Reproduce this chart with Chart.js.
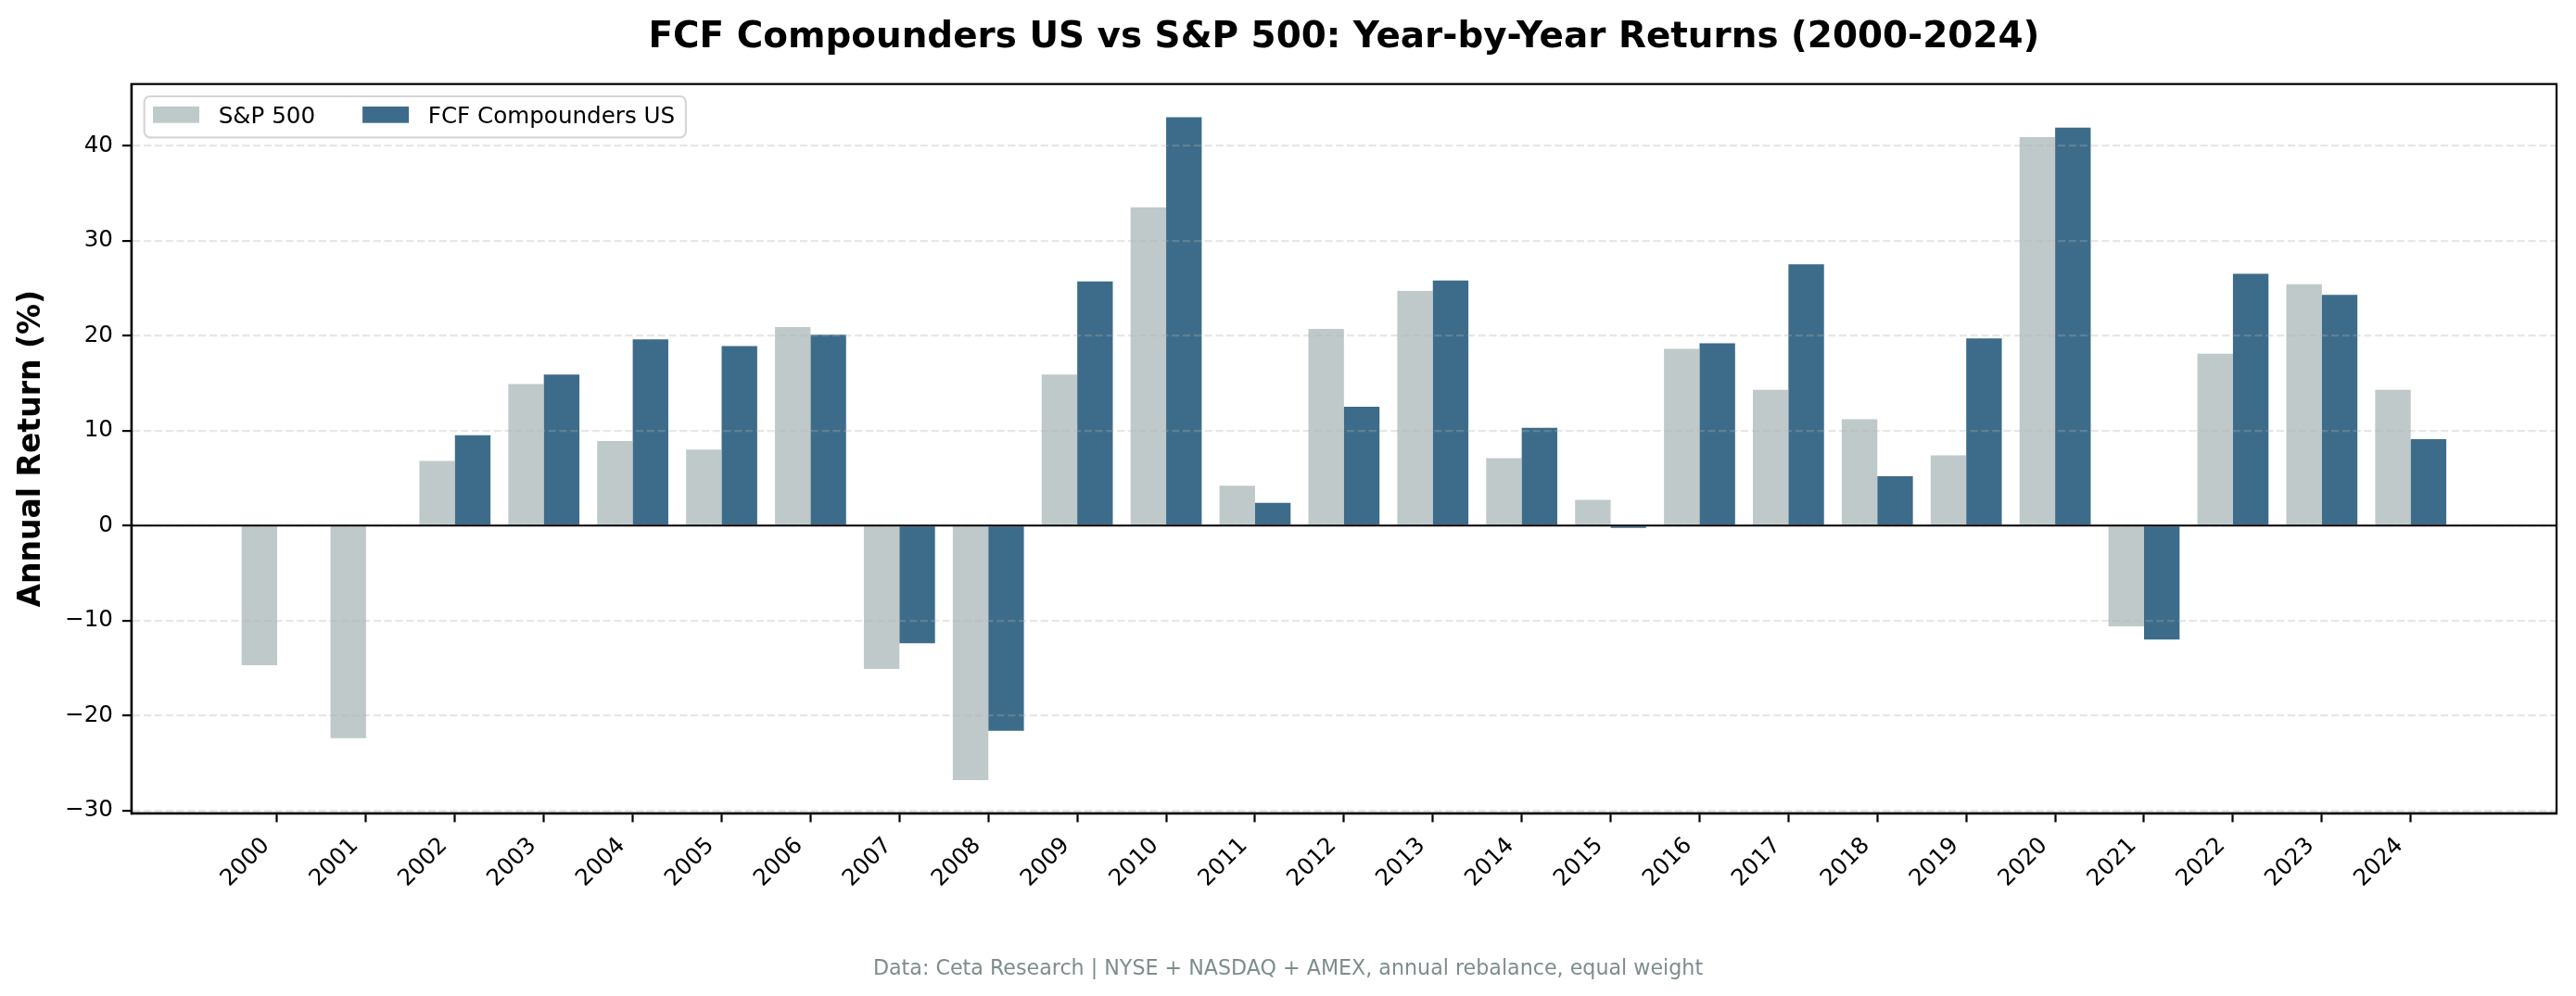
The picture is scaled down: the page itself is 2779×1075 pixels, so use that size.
<!DOCTYPE html>
<html>
<head>
<meta charset="utf-8">
<script src="https://cdn.jsdelivr.net/npm/chart.js@4.4.1/dist/chart.umd.min.js"></script>
<style>html,body{margin:0;padding:0;background:#fff;overflow:hidden}</style>
</head>
<body>
<canvas id="c" width="2779" height="1075" style="width:2779px;height:1075px;display:block"></canvas>
<script>
// ---- data ----
const years = ['2000','2001','2002','2003','2004','2005','2006','2007','2008','2009','2010','2011','2012',
               '2013','2014','2015','2016','2017','2018','2019','2020','2021','2022','2023','2024'];
const sp500 = [-14.7, -22.4, 6.8, 14.9, 8.9, 8.0, 20.9, -15.1, -26.8, 15.9, 33.5, 4.2, 20.7,
               24.7, 7.1, 2.7, 18.6, 14.3, 11.2, 7.4, 40.9, -10.6, 18.1, 25.4, 14.3];
const fcfCompounders = [null, null, 9.5, 15.9, 19.6, 18.9, 20.1, -12.4, -21.6, 25.7, 43.0, 2.4, 12.5,
               25.8, 10.3, -0.25, 19.2, 27.5, 5.2, 19.7, 41.9, -12.0, 26.5, 24.3, 9.1];
const yTicks = [-30, -20, -10, 0, 10, 20, 30, 40];
const seriesNames = ['S&P 500', 'FCF Compounders US'];
const titleText = 'FCF Compounders US vs S&P 500: Year-by-Year Returns (2000-2024)';
const yLabel = 'Annual Return (%)';
const footnote = 'Data: Ceta Research | NYSE + NASDAQ + AMEX, annual rebalance, equal weight';

// ---- styles ----
const FAM = "'DejaVu Sans', sans-serif";
const colSP = 'rgba(149,165,166,0.6)';
const colFCF = 'rgba(26,82,118,0.85)';
const TICK_FS = 24.6;

// axis limits like matplotlib autoscale (5% margins)
const allVals = sp500.concat(fcfCompounders).filter(v => v !== null);
const dMin = Math.min(0, ...allVals), dMax = Math.max(0, ...allVals);
const yMin = dMin - 0.05 * (dMax - dMin), yMax = dMax + 0.05 * (dMax - dMin);
const xLo = -0.4, xHi = years.length - 1 + 0.4;
const xMin = xLo - 0.05 * (xHi - xLo), xMax = xHi + 0.05 * (xHi - xLo);

const decor = {
  id: 'decor',
  afterDraw(chart) {
    const {ctx, chartArea: a, scales: {y}} = chart;
    ctx.save();
    // zero line
    const y0 = y.getPixelForValue(0);
    ctx.strokeStyle = '#000';
    ctx.lineWidth = 2.2;
    ctx.setLineDash([]);
    ctx.beginPath(); ctx.moveTo(a.left, y0); ctx.lineTo(a.right, y0); ctx.stroke();
    // frame
    ctx.strokeRect(a.left, a.top, a.right - a.left, a.bottom - a.top);
    // title
    ctx.fillStyle = '#000';
    ctx.font = `bold 38.9px ${FAM}`;
    ctx.textAlign = 'center';
    ctx.textBaseline = 'alphabetic';
    ctx.fillText(titleText, (a.left + a.right) / 2, 50.5);
    // footnote
    ctx.fillStyle = '#7f8c8d';
    ctx.font = `22.2px ${FAM}`;
    ctx.fillText(footnote, chart.width / 2, 1051.7);
    // legend
    ctx.font = `${TICK_FS}px ${FAM}`;
    ctx.textAlign = 'left';
    const bx = a.left + 14, by = a.top + 13.3, bh = 44.3;
    const padL = 9.3, patchW = 50, patchH = 17.7, gapT = 20.7, gapE = 51, padR = 11.7;
    const items = chart.data.datasets.map(d => ({label: d.label, color: d.backgroundColor, w: ctx.measureText(d.label).width}));
    let bw = padL + padR;
    items.forEach((it, i) => { bw += patchW + gapT + it.w + (i ? gapE : 0); });
    ctx.beginPath();
    ctx.roundRect(bx, by, bw, bh, 6);
    ctx.fillStyle = 'rgba(255,255,255,0.8)';
    ctx.fill();
    ctx.strokeStyle = '#d6d6d6';
    ctx.lineWidth = 2.2;
    ctx.stroke();
    let x = bx + padL;
    items.forEach((it, i) => {
      if (i) x += gapE;
      ctx.fillStyle = it.color;
      ctx.fillRect(x, by + 11, patchW, patchH);
      x += patchW + gapT;
      ctx.fillStyle = '#000';
      ctx.fillText(it.label, x, by + 28.7);
      x += it.w;
    });
    ctx.restore();
  }
};

new Chart(document.getElementById('c'), {
  type: 'bar',
  data: {
    datasets: [
      { label: seriesNames[0], data: sp500.map((v, i) => ({x: i, y: v})), backgroundColor: colSP, borderWidth: 0 },
      { label: seriesNames[1], data: fcfCompounders.map((v, i) => ({x: i, y: v})), backgroundColor: colFCF, borderWidth: 0 }
    ]
  },
  options: {
    responsive: false,
    devicePixelRatio: 1,
    animation: false,
    barPercentage: 1.0,
    categoryPercentage: 0.8,
    layout: { padding: { top: 90.7, right: 21, bottom: 0, left: 0 } },
    plugins: { legend: { display: false }, title: { display: false }, tooltip: { enabled: false } },
    scales: {
      x: {
        type: 'linear', min: xMin, max: xMax, offset: false,
        afterBuildTicks: s => { s.ticks = years.map((_, i) => ({value: i})); },
        afterFit: s => { s.height = 1075 - 877.7; },
        ticks: {
          callback: v => years[v] ?? '',
          font: { family: FAM, size: TICK_FS }, color: '#000',
          maxRotation: 45, minRotation: 45, autoSkip: false, padding: 11, labelOffset: -12
        },
        grid: { display: true, drawOnChartArea: false, drawTicks: true, tickLength: 9.7, tickWidth: 2.2, tickColor: '#000', offset: false },
        border: { display: true, color: '#000', width: 2.2 }
      },
      y: {
        min: yMin, max: yMax,
        afterBuildTicks: s => { s.ticks = yTicks.map(v => ({value: v})); },
        afterFit: s => { s.width = 141.7; },
        ticks: {
          callback: v => v < 0 ? '\u2212' + Math.abs(v) : String(v),
          font: { family: FAM, size: TICK_FS }, color: '#000', padding: 10
        },
        grid: { z: 1, color: 'rgba(176,176,176,0.3)', lineWidth: 2.2, tickColor: '#000', tickLength: 9.7, tickWidth: 2.2, tickBorderDash: [] },
        border: { z: 1, display: true, color: '#000', width: 2.2, dash: [8.2, 3.6] },
        title: { display: true, text: yLabel, font: { family: FAM, size: 33, weight: 'bold' }, color: '#000', padding: { top: 15, bottom: 0 } }
      }
    }
  },
  plugins: [decor]
});
</script>
</body>
</html>
